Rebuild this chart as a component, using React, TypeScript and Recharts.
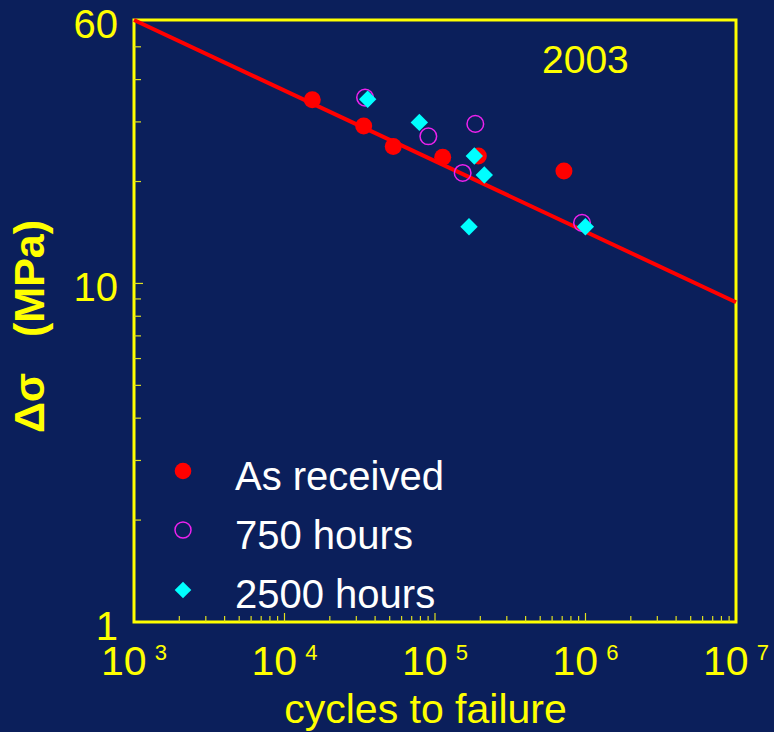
import React from 'react';
import { ScatterChart, Scatter, XAxis, YAxis, ReferenceLine, ReferenceArea, Legend } from 'recharts';

// cycles to failure / stress range (MPa)
const asReceivedCycles = [15300, 33600, 52800, 112500, 194000, 719000];
const asReceivedStress = [34.9, 29.2, 25.4, 23.6, 23.8, 21.5];
const h750Cycles = [34300, 90300, 185300, 152700, 948000];
const h750Stress = [35.4, 27.2, 29.6, 21.2, 15.1];
const h2500Cycles = [35700, 78700, 182500, 212600, 168300, 998000];
const h2500Stress = [35.0, 29.9, 23.8, 20.9, 14.7, 14.7];
const fitCycles = [1000, 10000000];
const fitStress = [60, 8.8];

const xMajorTicks = [1000, 10000, 100000, 1000000, 10000000];
const xTickExponents = ['3', '4', '5', '6', '7'];
const yMajorTicks = [1, 10, 60];
const yTickLabels = ['1', '10', '60'];
const minorSteps = [2, 3, 4, 5, 6, 7, 8, 9];

const BG = '#0b1f5b';
const YELLOW = '#ffff00';
const TICK = '#e0e020';
const FONT = '"Liberation Sans", Arial, Helvetica, sans-serif';

const zip = (xs: number[], ys: number[]) => xs.map((x, i) => ({ x, y: ys[i] }));
const asReceived = zip(asReceivedCycles, asReceivedStress);
const h750 = zip(h750Cycles, h750Stress);
const h2500 = zip(h2500Cycles, h2500Stress);

const xTicks = [
  ...xMajorTicks,
  ...xMajorTicks.slice(0, -1).flatMap((d) => minorSteps.map((m) => m * d)),
];
const yTicks = [...yMajorTicks, ...minorSteps.map((m) => m), 20, 30, 40, 50];

const XTick = (props: any) => {
  const { x, y, payload } = props;
  const v = payload.value;
  const idx = xMajorTicks.indexOf(v);
  const major = idx >= 0;
  const edge = v === 1000 || v === 10000000;
  return (
    <g>
      {!edge && (
        <line x1={x} x2={x} y1={y} y2={y - (major ? 9 : 6)} stroke={TICK} strokeWidth={1.2} />
      )}
      {major && (
        <text x={x} y={y + 53} textAnchor="middle" fill={YELLOW} fontSize={41} fontFamily={FONT}>
          10
          <tspan dx={8} dy={-15} fontSize={22}>
            {xTickExponents[idx]}
          </tspan>
        </text>
      )}
    </g>
  );
};

const YTick = (props: any) => {
  const { x, y, payload } = props;
  const v = payload.value;
  const idx = yMajorTicks.indexOf(v);
  const edge = v === 1 || v === 60;
  return (
    <g>
      {!edge && (
        <line x1={x} x2={x + (v === 10 ? 9 : 7)} y1={y} y2={y} stroke={TICK} strokeWidth={1.2} />
      )}
      {idx >= 0 && (
        <text x={x - 16} y={y + 18} textAnchor="end" fill={YELLOW} fontSize={40} fontFamily={FONT}>
          {yTickLabels[idx]}
        </text>
      )}
    </g>
  );
};

const XTitle = () => (
  <text x={425.5} y={723} textAnchor="middle" fill={YELLOW} fontSize={41} fontFamily={FONT}>
    cycles to failure
  </text>
);

const YTitle = () => (
  <text
    x={44}
    y={326.5}
    transform="rotate(-90 44 326.5)"
    textAnchor="middle"
    fill={YELLOW}
    fontSize={43}
    fontWeight="bold"
    fontFamily={FONT}
    style={{ whiteSpace: 'pre' }}
  >
    {'Δσ   (MPa)'}
  </text>
);

const YearLabel = () => (
  <text x={542} y={73} fill={YELLOW} fontSize={39} fontFamily={FONT}>
    2003
  </text>
);

const Dot = (p: any) => <circle cx={p.cx} cy={p.cy} r={8.5} fill="#ff0000" />;
const Ring = (p: any) => (
  <circle cx={p.cx} cy={p.cy} r={8.3} fill="none" stroke="#ee22ee" strokeWidth={1.5} />
);
const Diamond = (p: any) => {
  const r = 8.7;
  return (
    <polygon
      points={`${p.cx},${p.cy - r} ${p.cx + r},${p.cy} ${p.cx},${p.cy + r} ${p.cx - r},${p.cy}`}
      fill="#00ffff"
    />
  );
};

const LegendContent = () => (
  <svg width={300} height={180} style={{ display: 'block' }}>
    <circle cx={23} cy={31} r={8.3} fill="#ff0000" />
    <circle cx={23} cy={90} r={8} fill="none" stroke="#ee22ee" strokeWidth={1.5} />
    <polygon points="23,141.7 31.3,150 23,158.3 14.7,150" fill="#00ffff" />
    <text x={75} y={50} fill="#ffffff" fontSize={40} fontFamily={FONT}>As received</text>
    <text x={75} y={109} fill="#ffffff" fontSize={40} fontFamily={FONT}>750 hours</text>
    <text x={75} y={168} fill="#ffffff" fontSize={40} fontFamily={FONT}>2500 hours</text>
  </svg>
);

export default function App() {
  return (
    <div style={{ position: 'absolute', left: 0, top: 0, width: 774, height: 732, background: BG }}>
      <ScatterChart width={774} height={732} margin={{ top: 20, right: 38, bottom: 0, left: 0 }}>
        <XAxis
          dataKey="x"
          type="number"
          scale="log"
          domain={[1000, 10000000]}
          allowDataOverflow
          ticks={xTicks}
          interval={0}
          tick={<XTick />}
          tickLine={false}
          axisLine={false}
          tickSize={0}
          tickMargin={0}
          height={110}
          label={<XTitle />}
        />
        <YAxis
          dataKey="y"
          type="number"
          scale="log"
          domain={[1, 60]}
          allowDataOverflow
          ticks={yTicks}
          interval={0}
          tick={<YTick />}
          tickLine={false}
          axisLine={false}
          tickSize={0}
          tickMargin={0}
          width={134}
          label={<YTitle />}
        />
        <ReferenceLine
          segment={[
            { x: fitCycles[0], y: fitStress[0] },
            { x: fitCycles[1], y: fitStress[1] },
          ]}
          stroke="#ff0000"
          strokeWidth={4}
        />
        <Scatter name="As received" data={asReceived} shape={<Dot />} isAnimationActive={false} />
        <Scatter name="750 hours" data={h750} shape={<Ring />} isAnimationActive={false} />
        <Scatter name="2500 hours" data={h2500} shape={<Diamond />} isAnimationActive={false} />
        <ReferenceArea
          x1={1000}
          x2={10000000}
          y1={1}
          y2={60}
          fill="none"
          stroke={YELLOW}
          strokeWidth={3}
          label={<YearLabel />}
        />
        <Legend
          layout="vertical"
          align="center"
          verticalAlign="middle"
          content={<LegendContent />}
          wrapperStyle={{ position: 'absolute', left: 160, top: 440, width: 300, height: 180 }}
        />
      </ScatterChart>
    </div>
  );
}
